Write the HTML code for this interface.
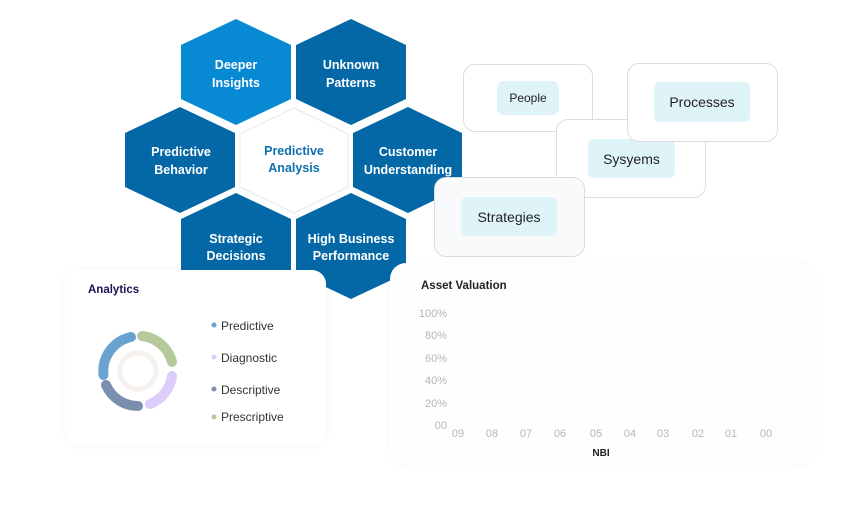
<!DOCTYPE html>
<html><head><meta charset="utf-8"><style>
body{margin:0;width:864px;height:512px;background:#fff;overflow:hidden;position:relative;font-family:"Liberation Sans",sans-serif}
.card{position:absolute;background:#fff;border:1px solid #dcdcdc;border-radius:12px}
.lab{position:absolute;background:#dff4f9;border-radius:6px;display:flex;align-items:center;justify-content:center;color:#222}
.t{position:absolute;white-space:nowrap}
</style></head><body>
<svg width="864" height="512" style="position:absolute;left:0;top:0">
<g font-family="Liberation Sans, sans-serif" font-weight="bold" font-size="12.5" fill="#fff" text-anchor="middle">
<polygon points="236,19 291,45 291,99 236,125 181,99 181,45" fill="#0889d3"/>
<text x="236" y="69">Deeper</text><text x="236" y="87">Insights</text>
<polygon points="351,19 406,45 406,99 351,125 296,99 296,45" fill="#0468a6"/>
<text x="351" y="69">Unknown</text><text x="351" y="87">Patterns</text>
<polygon points="180,107 235,133 235,187 180,213 125,187 125,133" fill="#0468a6"/>
<text x="181" y="156">Predictive</text><text x="181" y="174">Behavior</text>
<polygon points="294,108 348,134 348,187 294,213 240,187 240,134" fill="#fff" stroke="#e8e8e8"/>
<text x="294" y="155" fill="#0f6fae">Predictive</text><text x="294" y="172" fill="#0f6fae">Analysis</text>
<polygon points="408,107 462,133 462,187 408,213 353,187 353,133" fill="#0468a6"/>
<text x="408" y="156">Customer</text><text x="408" y="174">Understanding</text>
<polygon points="236,193 291,219 291,273 236,299 181,273 181,219" fill="#0468a6"/>
<text x="236" y="243">Strategic</text><text x="236" y="260">Decisions</text>
<polygon points="351,193 406,219 406,273 351,299 296,273 296,219" fill="#0468a6"/>
<text x="351" y="243">High Business</text><text x="351" y="260">Performance</text>
</g>
</svg>
<div class="card" style="left:463px;top:64px;width:128px;height:66px"></div>
<div class="lab" style="left:497px;top:81px;width:62px;height:34px;font-size:12px">People</div>
<div class="card" style="left:556px;top:119px;width:148px;height:77px"></div>
<div class="lab" style="left:588px;top:139px;width:87px;height:39px;font-size:14px">Sysyems</div>
<div class="card" style="left:627px;top:63px;width:149px;height:77px"></div>
<div class="lab" style="left:654px;top:82px;width:96px;height:40px;font-size:14px">Processes</div>
<div class="card" style="left:434px;top:177px;width:149px;height:78px;background:#f8fafc"></div>
<div class="lab" style="left:461px;top:197px;width:96px;height:39px;font-size:14px">Strategies</div>

<div style="position:absolute;left:65px;top:270px;width:261px;height:175px;background:#fff;border-radius:14px;box-shadow:0 0 10px rgba(0,0,0,0.04)"></div>
<div style="position:absolute;left:390px;top:263px;width:422px;height:202px;background:#fefefe;border-radius:16px;box-shadow:0 0 10px rgba(0,0,0,0.04)"></div>

<div class="t" style="left:88px;top:284px;font-size:11.5px;font-weight:bold;color:#1a1550">Analytics</div>
<svg width="864" height="512" style="position:absolute;left:0;top:0">
<circle cx="138" cy="371" r="18" fill="none" stroke="#f6f1ec" stroke-width="5"/>
<g fill="none" stroke-width="10" stroke-linecap="round">
<path d="M103.5,375 A35,35 0 0 1 131,337" stroke="#6aa3cf"/>
<path d="M142,336 A35,35 0 0 1 172,362" stroke="#b5c99a"/>
<path d="M172,376 A35,35 0 0 1 150,404" stroke="#dccdfb"/>
<path d="M138,406 A35,35 0 0 1 106,385" stroke="#7a8fae"/>
</g>
<circle cx="214" cy="325" r="2.5" fill="#6aa3cf"/><circle cx="214" cy="357" r="2.5" fill="#dccdfb"/>
<circle cx="214" cy="389" r="2.5" fill="#7a8fae"/><circle cx="214" cy="417" r="2.5" fill="#b5c99a"/>
<g font-family="Liberation Sans, sans-serif" font-size="12" fill="#333">
<text x="221" y="330">Predictive</text><text x="221" y="362">Diagnostic</text>
<text x="221" y="394">Descriptive</text><text x="221" y="421">Prescriptive</text>
</g>
<g font-family="Liberation Sans, sans-serif" font-size="11" fill="#b5b5b5" text-anchor="end">
<text x="447" y="317">100%</text><text x="447" y="339">80%</text><text x="447" y="362">60%</text>
<text x="447" y="384">40%</text><text x="447" y="407">20%</text><text x="447" y="429">00</text>
</g>
<g font-family="Liberation Sans, sans-serif" font-size="11" fill="#b5b5b5" text-anchor="middle">
<text x="458" y="437">09</text><text x="492" y="437">08</text><text x="526" y="437">07</text><text x="560" y="437">06</text><text x="596" y="437">05</text><text x="630" y="437">04</text><text x="663" y="437">03</text><text x="698" y="437">02</text><text x="731" y="437">01</text><text x="766" y="437">00</text>
</g>
<text x="601" y="456" font-family="Liberation Sans, sans-serif" font-size="10" font-weight="bold" fill="#222" text-anchor="middle">NBI</text>
<text x="421" y="289" font-family="Liberation Sans, sans-serif" font-size="11.5" font-weight="bold" fill="#222">Asset Valuation</text>
</svg>
</body></html>
